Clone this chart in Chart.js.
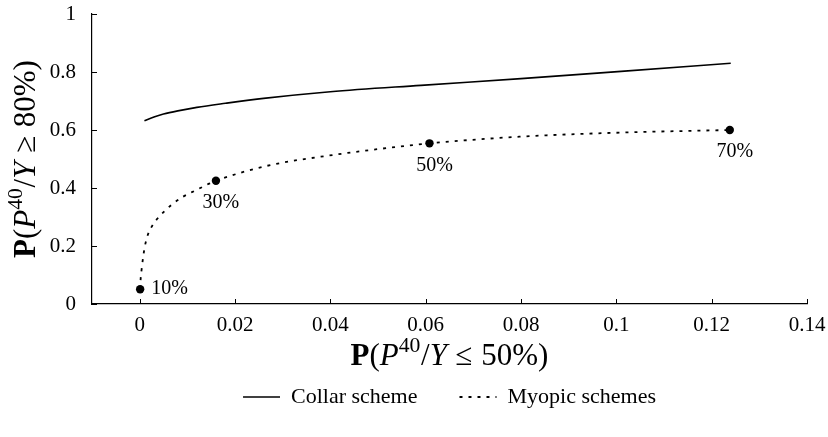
<!DOCTYPE html>
<html><head><meta charset="utf-8">
<script src="https://cdn.jsdelivr.net/npm/chart.js@4"></script>
<style>html,body{margin:0;padding:0;background:#fff}</style>
</head><body>
<canvas id="c" width="828" height="437"></canvas>
<script>
// ---- data ----
const collarX = [0.001, 0.003, 0.005, 0.008, 0.012, 0.018, 0.026, 0.040, 0.059, 0.080, 0.101, 0.124];
const collarY = [0.632, 0.645, 0.655, 0.666, 0.678, 0.692, 0.709, 0.732, 0.754, 0.777, 0.802, 0.830];
const myopicX = [0.0001, 0.0002, 0.0004, 0.0007, 0.0011, 0.0017, 0.0025, 0.0035, 0.0049, 0.0067, 0.0091, 0.0119, 0.0147, 0.016, 0.0266, 0.0406, 0.0546, 0.0608, 0.0798, 0.1008, 0.1238];
const myopicY = [0.051, 0.085, 0.118, 0.158, 0.200, 0.238, 0.266, 0.290, 0.315, 0.342, 0.370, 0.393, 0.416, 0.425, 0.476, 0.514, 0.543, 0.554, 0.577, 0.591, 0.600];
const markerX = [0.0001, 0.016, 0.0608, 0.1238];
const markerY = [0.051, 0.425, 0.554, 0.600];
const markerLabels = ['10%', '30%', '50%', '70%'];
const markerPlacement = ['right', 'below', 'below', 'below'];
const xTickValues = [0, 0.02, 0.04, 0.06, 0.08, 0.1, 0.12, 0.14];
const xTickLabels = ['0', '0.02', '0.04', '0.06', '0.08', '0.1', '0.12', '0.14'];
const yTickValues = [0, 0.2, 0.4, 0.6, 0.8, 1];
const yTickLabels = ['0', '0.2', '0.4', '0.6', '0.8', '1'];
const seriesNames = ['Collar scheme', 'Myopic schemes'];

const FONT = '"Liberation Serif", "Times New Roman", serif';
const toPts = (xs, ys) => xs.map((x, i) => ({x: x, y: ys[i]}));

// math-like axis titles: [text, style, scale, rise(em), gapBefore(em)]
const xTitleParts = [['P','bold'],['(',''],['P','italic'],['40','',0.7,0.42],['/','',1,0,0.02],['Y','italic'],['≤','',1,0,0.28],['50%','',1,0,0.28],[')','']];
const yTitleParts = [['P','bold'],['(',''],['P','italic'],['40','',0.7,0.42],['/','',1,0,0.02],['Y','italic'],['≥','',1,0,0.28],['80%','',1,0,0.28],[')','']];
const TITLE_SIZE = 31;

function drawMath(ctx, parts, cx, cy, rot) {
  ctx.save();
  ctx.translate(cx, cy);
  ctx.rotate(rot);
  ctx.textBaseline = 'alphabetic';
  ctx.textAlign = 'left';
  ctx.fillStyle = '#000';
  const items = parts.map(p => {
    const sc = p[2] || 1, size = TITLE_SIZE * sc;
    const font = (p[1] === 'bold' ? 'bold ' : p[1] === 'italic' ? 'italic ' : '') + size + 'px ' + FONT;
    ctx.font = font;
    return {t: p[0], font, w: ctx.measureText(p[0]).width, rise: (p[3] || 0) * TITLE_SIZE, gap: (p[4] || 0) * TITLE_SIZE};
  });
  const total = items.reduce((s, it) => s + it.w + it.gap, 0);
  let x = -total / 2;
  items.forEach(it => {
    x += it.gap;
    ctx.font = it.font;
    ctx.fillText(it.t, x, -it.rise);
    x += it.w;
  });
  ctx.restore();
}

const decor = {
  id: 'decor',
  afterDraw(chart) {
    const {ctx, chartArea: a} = chart;
    const xs = chart.scales.x, ys = chart.scales.y;
    ctx.save();
    ctx.strokeStyle = '#000';
    ctx.lineWidth = 1;
    xTickValues.forEach(v => {
      const px = Math.round(xs.getPixelForValue(v)) + 0.5;
      ctx.beginPath(); ctx.moveTo(px, a.bottom); ctx.lineTo(px, a.bottom - 5); ctx.stroke();
    });
    yTickValues.forEach(v => {
      const py = Math.round(ys.getPixelForValue(v)) + 0.5;
      ctx.beginPath(); ctx.moveTo(a.left, py); ctx.lineTo(a.left + 5, py); ctx.stroke();
    });
    ctx.fillStyle = '#000';
    ctx.font = '20px ' + FONT;
    ctx.textBaseline = 'middle';
    markerX.forEach((v, i) => {
      const px = xs.getPixelForValue(v), py = ys.getPixelForValue(markerY[i]);
      if (markerPlacement[i] === 'right') {
        ctx.textAlign = 'left';
        ctx.fillText(markerLabels[i], px + 11, py);
      } else {
        ctx.textAlign = 'center';
        ctx.fillText(markerLabels[i], px + 5, py + 22);
      }
    });
    drawMath(ctx, xTitleParts, (a.left + a.right) / 2, 365, 0);
    drawMath(ctx, yTitleParts, 35, (a.top + a.bottom) / 2, -Math.PI / 2);
    ctx.restore();
  }
};

new Chart(document.getElementById('c'), {
  type: 'scatter',
  data: {
    datasets: [
      {label: seriesNames[0], data: toPts(collarX, collarY), showLine: true, borderColor: '#000', borderWidth: 1.6, pointRadius: 0, cubicInterpolationMode: 'monotone', fill: false},
      {label: seriesNames[1], data: toPts(myopicX, myopicY), showLine: true, borderColor: '#000', borderWidth: 1.8, borderDash: [3, 6], pointRadius: 0, cubicInterpolationMode: 'monotone', fill: false},
      {label: 'markers', data: toPts(markerX, markerY), showLine: false, pointRadius: 4.2, pointBackgroundColor: '#000', pointBorderColor: '#000', pointBorderWidth: 0}
    ]
  },
  options: {
    responsive: false,
    animation: false,
    devicePixelRatio: 1,
    layout: {padding: {left: 0, right: 21, top: 14, bottom: 19}},
    scales: {
      x: {
        type: 'linear', min: -0.01, max: 0.14,
        grid: {display: false, drawTicks: false},
        border: {display: true, color: '#000', width: 1.2},
        afterBuildTicks: s => { s.ticks = xTickValues.map(v => ({value: v})); },
        afterFit: s => { s.height = 40; s.paddingLeft = 0; s.paddingRight = 0; },
        ticks: {callback: v => xTickLabels[xTickValues.indexOf(v)], font: {family: FONT, size: 21}, color: '#000', padding: 9, maxRotation: 0, autoSkip: false}
      },
      y: {
        type: 'linear', min: 0, max: 1,
        grid: {display: false},
        border: {display: true, color: '#000', width: 1.2},
        afterBuildTicks: s => { s.ticks = yTickValues.map(v => ({value: v})); },
        afterFit: s => { s.width = 92; s.paddingTop = 0; s.paddingBottom = 0; },
        ticks: {callback: v => yTickLabels[yTickValues.indexOf(v)], font: {family: FONT, size: 21}, color: '#000', padding: 8, autoSkip: false}
      }
    },
    plugins: {
      tooltip: {enabled: false},
      legend: {
        position: 'bottom',
        fullSize: false,
        labels: {
          usePointStyle: true,
          pointStyleWidth: 37,
          padding: 42,
          color: '#000',
          font: {family: FONT, size: 22},
          generateLabels: () => [
            {text: seriesNames[0], pointStyle: 'line', strokeStyle: '#000', fillStyle: '#000', lineWidth: 1.5, lineDash: [], fontColor: '#000', hidden: false, datasetIndex: 0},
            {text: seriesNames[1], pointStyle: 'line', strokeStyle: '#000', fillStyle: '#000', lineWidth: 1.8, lineDash: [3, 6], fontColor: '#000', hidden: false, datasetIndex: 1}
          ]
        }
      }
    }
  },
  plugins: [decor]
});
</script>
</body></html>
